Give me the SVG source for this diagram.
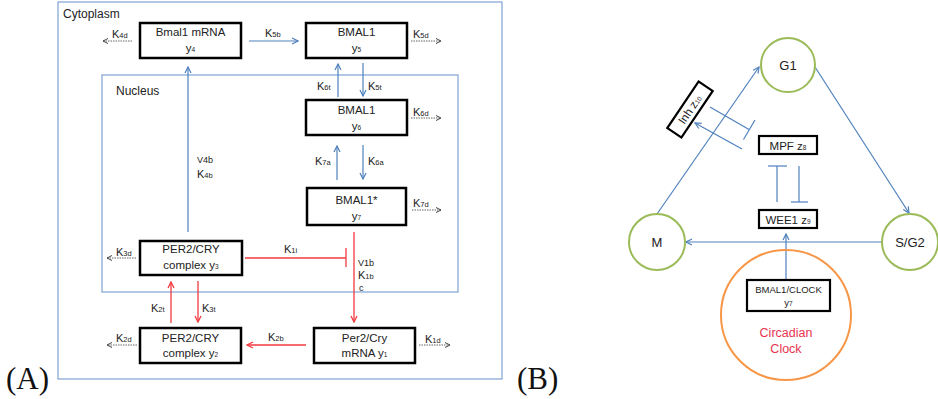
<svg xmlns="http://www.w3.org/2000/svg" width="938" height="399" viewBox="0 0 938 399">
<defs>
<style>
.frame{fill:none;stroke:#7ea3d6;stroke-width:1.2}
.box{fill:#fff;stroke:#000;stroke-width:2.5}
.bbox{fill:#fff;stroke:#000;stroke-width:2.2}
.t{font-family:"Liberation Sans",Arial,sans-serif;font-size:11.5px;fill:#222;text-anchor:middle}
.k{font-family:"Liberation Sans",Arial,sans-serif;font-size:11px;fill:#222}
.s{font-size:7.5px}
.ss{font-size:6.5px}
.bl{stroke:#4f81bd;stroke-width:1.2;fill:none}
.rd{stroke:#f23a3f;stroke-width:1.3;fill:none}
.dg{stroke:#666;stroke-width:1;stroke-dasharray:1.5,1;fill:none}
.cg{fill:#fff;stroke:#9bbb59;stroke-width:2}
.lab{font-family:"Liberation Serif","Times New Roman",serif;font-size:31px;fill:#111}
</style>
<marker id="ab" markerWidth="8" markerHeight="8" refX="7" refY="4" orient="auto" markerUnits="userSpaceOnUse"><path d="M1,1 L7,4 L1,7" fill="none" stroke="#4f81bd" stroke-width="1.2"/></marker>
<marker id="ar" markerWidth="8" markerHeight="8" refX="7" refY="4" orient="auto" markerUnits="userSpaceOnUse"><path d="M1,1 L7,4 L1,7" fill="none" stroke="#f23a3f" stroke-width="1.3"/></marker>
<marker id="ag" markerWidth="7" markerHeight="7" refX="6" refY="3.5" orient="auto" markerUnits="userSpaceOnUse"><path d="M1,1 L6,3.5 L1,6" fill="none" stroke="#444" stroke-width="1"/></marker>
</defs>
<rect width="938" height="399" fill="#fff"/>

<!-- Panel A frames -->
<g id="cytoplasm">
<rect class="frame" x="58" y="2" width="444" height="377"/>
<text class="k" x="63" y="18" style="font-size:12px">Cytoplasm</text>
</g>
<g id="nucleus">
<rect class="frame" x="102" y="75" width="356" height="217"/>
<text class="k" x="116" y="95" style="font-size:12px">Nucleus</text>
</g>

<g id="connectors">
<!-- degradation arrows -->
<line class="dg" x1="132" y1="41" x2="103" y2="41" marker-end="url(#ag)"/>
<line class="dg" x1="411" y1="41" x2="441" y2="41" marker-end="url(#ag)"/>
<line class="dg" x1="411" y1="118" x2="441" y2="118" marker-end="url(#ag)"/>
<line class="dg" x1="412" y1="210" x2="441" y2="210" marker-end="url(#ag)"/>
<line class="dg" x1="136" y1="258" x2="107" y2="258" marker-end="url(#ag)"/>
<line class="dg" x1="137" y1="345" x2="107" y2="345" marker-end="url(#ag)"/>
<line class="dg" x1="419" y1="345" x2="450" y2="345" marker-end="url(#ag)"/>
<!-- blue arrows -->
<line class="bl" x1="249" y1="41" x2="298" y2="41" marker-end="url(#ab)"/>
<line class="bl" x1="338" y1="97" x2="338" y2="64" marker-end="url(#ab)"/>
<line class="bl" x1="363" y1="63" x2="363" y2="96" marker-end="url(#ab)"/>
<line class="bl" x1="337" y1="180" x2="337" y2="146" marker-end="url(#ab)"/>
<line class="bl" x1="363" y1="145" x2="363" y2="179" marker-end="url(#ab)"/>
<line class="bl" x1="188" y1="232" x2="188" y2="67" marker-end="url(#ab)"/>
<!-- red -->
<line class="rd" x1="354" y1="232" x2="354" y2="322" marker-end="url(#ar)"/>
<line class="rd" x1="245" y1="258" x2="346" y2="258"/>
<line class="rd" x1="346" y1="248" x2="346" y2="267"/>
<line class="rd" x1="171" y1="323" x2="171" y2="282" marker-end="url(#ar)"/>
<line class="rd" x1="198" y1="281" x2="198" y2="322" marker-end="url(#ar)"/>
<line class="rd" x1="306" y1="345" x2="247" y2="345" marker-end="url(#ar)"/>
<!-- Panel B -->
<line class="bl" x1="657" y1="214" x2="759" y2="67" marker-end="url(#ab)"/>
<line class="bl" x1="815" y1="67" x2="909" y2="213" marker-end="url(#ab)"/>
<line class="bl" x1="882" y1="242" x2="686" y2="242" marker-end="url(#ab)"/>
<line class="bl" x1="786" y1="280" x2="786" y2="234" marker-end="url(#ab)"/>
<line class="bl" x1="742" y1="149" x2="695" y2="123" marker-end="url(#ab)"/>
<line class="bl" x1="710" y1="107" x2="749" y2="129.5"/>
<line class="bl" x1="755" y1="120" x2="743.5" y2="139.5"/>
<line class="bl" x1="777" y1="202" x2="777" y2="166"/>
<line class="bl" x1="768" y1="166" x2="787" y2="166"/>
<line class="bl" x1="799" y1="166" x2="799" y2="202"/>
<line class="bl" x1="791" y1="202" x2="808" y2="202"/>
<!-- rate labels -->
<text class="k" x="112" y="38">K<tspan class="s">4d</tspan></text>
<text class="k" x="265" y="37">K<tspan class="s">5b</tspan></text>
<text class="k" x="413" y="38">K<tspan class="s">5d</tspan></text>
<text class="k" x="317" y="90">K<tspan class="s">6t</tspan></text>
<text class="k" x="368" y="90">K<tspan class="s">5t</tspan></text>
<text class="k" x="413" y="116">K<tspan class="s">6d</tspan></text>
<text class="k" x="315" y="165">K<tspan class="s">7a</tspan></text>
<text class="k" x="368" y="165">K<tspan class="s">6a</tspan></text>
<text class="k" x="413" y="207">K<tspan class="s">7d</tspan></text>
<text class="k" x="197" y="163" style="font-size:9px">V4b</text>
<text class="k" x="197" y="178">K<tspan class="s">4b</tspan></text>
<text class="k" x="284" y="253">K<tspan class="s">1i</tspan></text>
<text class="k" x="116" y="256">K<tspan class="s">3d</tspan></text>
<text class="k" x="358" y="266" style="font-size:9px">V1b</text>
<text class="k" x="358" y="279">K<tspan class="s">1b</tspan></text>
<text class="k" x="359" y="291" style="font-size:9px">c</text>
<text class="k" x="151" y="312">K<tspan class="s">2t</tspan></text>
<text class="k" x="202" y="312">K<tspan class="s">3t</tspan></text>
<text class="k" x="116" y="342">K<tspan class="s">2d</tspan></text>
<text class="k" x="268" y="341">K<tspan class="s">2b</tspan></text>
<text class="k" x="425" y="343">K<tspan class="s">1d</tspan></text>
</g>

<!-- Panel A nodes -->
<g id="bmal1-mrna"><rect class="box" x="140" y="23" width="101" height="35"/><text class="t" x="190.5" y="36">Bmal1 mRNA</text><text class="t" x="190.5" y="52">y<tspan class="ss">4</tspan></text></g>
<g id="bmal1-cyt"><rect class="box" x="306" y="23" width="101" height="35"/><text class="t" x="356.5" y="36">BMAL1</text><text class="t" x="356.5" y="52">y<tspan class="ss">5</tspan></text></g>
<g id="bmal1-nuc"><rect class="box" x="306" y="100" width="101" height="35"/><text class="t" x="356.5" y="114">BMAL1</text><text class="t" x="356.5" y="130">y<tspan class="ss">6</tspan></text></g>
<g id="bmal1-star"><rect class="box" x="307" y="188" width="99" height="37"/><text class="t" x="356.5" y="204">BMAL1*</text><text class="t" x="356.5" y="220">y<tspan class="ss">7</tspan></text></g>
<g id="per2cry-nuc"><rect class="box" x="140" y="241" width="102" height="34"/><text class="t" x="191" y="253">PER2/CRY</text><text class="t" x="191" y="269">complex y<tspan class="ss">3</tspan></text></g>
<g id="per2cry-cyt"><rect class="box" x="140" y="328" width="101" height="35"/><text class="t" x="190.5" y="342">PER2/CRY</text><text class="t" x="190.5" y="357">complex y<tspan class="ss">2</tspan></text></g>
<g id="per2cry-mrna"><rect class="box" x="314" y="328" width="101" height="35"/><text class="t" x="364.5" y="342">Per2/Cry</text><text class="t" x="364.5" y="357">mRNA y<tspan class="ss">1</tspan></text></g>

<!-- Panel B nodes -->
<g id="g1"><circle class="cg" cx="788" cy="65" r="27"/><text class="t" x="788" y="70" style="font-size:13px">G1</text></g>
<g id="m"><circle class="cg" cx="657" cy="242" r="28"/><text class="t" x="657" y="247" style="font-size:13px">M</text></g>
<g id="sg2"><circle class="cg" cx="910" cy="242" r="28"/><text class="t" x="910" y="247" style="font-size:13px">S/G2</text></g>
<g id="mpf"><rect class="bbox" x="759" y="136" width="58" height="18"/><text class="t" x="788" y="149.5">MPF z<tspan class="ss">8</tspan></text></g>
<g id="wee1"><rect class="bbox" x="759" y="210" width="58" height="18"/><text class="t" x="788" y="223.5">WEE1 z<tspan class="ss">9</tspan></text></g>
<g id="inh"><g transform="translate(690,109.5) rotate(-56)"><rect class="bbox" x="-28" y="-8.5" width="56" height="17"/><text class="t" x="0" y="4">Inh z<tspan class="ss">10</tspan></text></g></g>
<g id="clock"><circle cx="786" cy="315" r="65" fill="none" stroke="#f79646" stroke-width="2"/>
<rect class="bbox" x="747" y="280" width="83" height="31"/>
<text class="t" x="788.5" y="293" style="font-size:9.5px">BMAL1/CLOCK</text>
<text class="t" x="788.5" y="306" style="font-size:9.5px">y<tspan class="ss">7</tspan></text>
<text class="t" x="786" y="337" style="font-size:12.5px;fill:#e8334f">Circadian</text>
<text class="t" x="786" y="353" style="font-size:12.5px;fill:#e8334f">Clock</text></g>

<text class="lab" x="6" y="389">(A)</text>
<text class="lab" x="517" y="389">(B)</text>
</svg>
